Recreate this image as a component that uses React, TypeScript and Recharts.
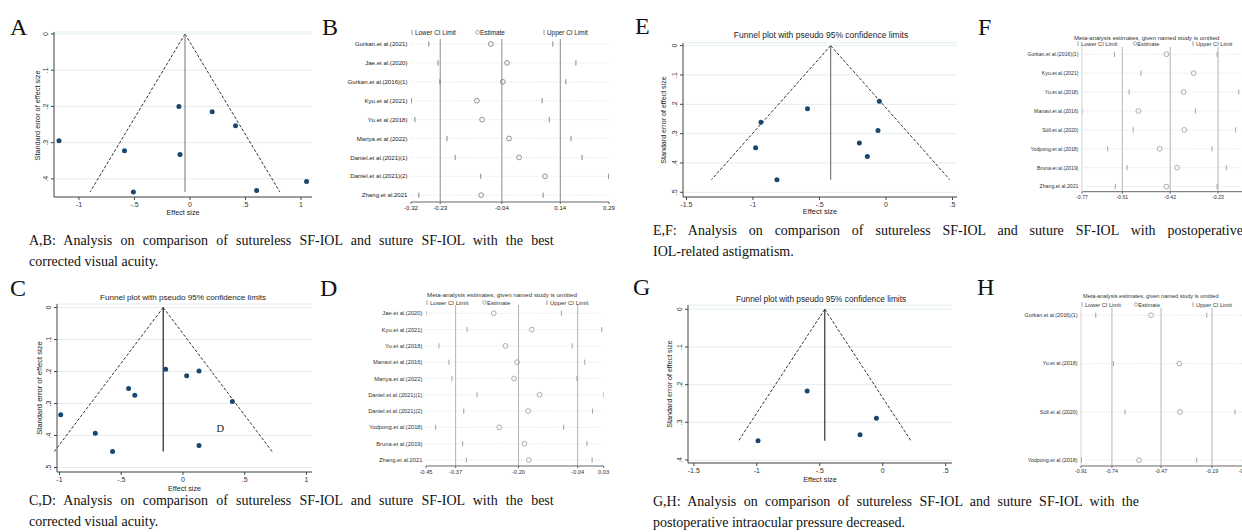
import { ScatterChart, Scatter, XAxis, YAxis, CartesianGrid, ReferenceLine } from 'recharts'

const SANS = '"Liberation Sans", Arial, Helvetica, sans-serif'
const SERIF = '"Liberation Serif", "Times New Roman", serif'
const NAVY = '#1a476f'

// ---- funnel plots (effect size vs standard error) ----
const aEffect = [-1.18, -0.59, -0.1, -0.09, -0.51, 0.2, 0.41, 0.6, 1.05]
const aSE = [0.295, 0.322, 0.2, 0.333, 0.436, 0.215, 0.253, 0.432, 0.407]
const aPooled = -0.045

const cEffect = [-0.99, -0.71, -0.57, -0.44, -0.39, -0.14, 0.03, 0.13, 0.4, 0.13]
const cSE = [0.335, 0.393, 0.45, 0.253, 0.274, 0.193, 0.213, 0.198, 0.294, 0.431]
const cPooled = -0.16

const eEffect = [-0.98, -0.94, -0.59, -0.82, -0.05, -0.06, -0.2, -0.14]
const eSE = [0.348, 0.261, 0.215, 0.457, 0.19, 0.289, 0.332, 0.378]
const ePooled = -0.416

const gEffect = [-0.6, -0.99, -0.05, -0.18]
const gSE = [0.217, 0.349, 0.289, 0.333]
const gPooled = -0.46

const seTicks4 = [0, 0.1, 0.2, 0.3, 0.4]
const seTicks5 = [0, 0.1, 0.2, 0.3, 0.4, 0.5]
const effTicksAC = [-1, -0.5, 0, 0.5, 1]
const effTicksEG = [-1.5, -1, -0.5, 0, 0.5]

// ---- leave-one-out sensitivity plots ----
const bStudies = ['Gurkan.et al.(2021)', 'Jae.et al.(2020)', 'Gurkan.et al.(2016)(1)', 'Kyu.et al.(2021)', 'Yu.et al.(2018)', 'Mariya.et al.(2022)', 'Daniel.et al.(2021)(1)', 'Daniel.et al.(2021)(2)', 'Zhang.et al.2021']
const bLower = [-0.265, -0.237, -0.231, -0.319, -0.308, -0.209, -0.184, -0.105, -0.296]
const bEst = [-0.074, -0.024, -0.037, -0.117, -0.101, -0.018, 0.013, 0.093, -0.104]
const bUpper = [0.117, 0.188, 0.157, 0.084, 0.106, 0.173, 0.207, 0.289, 0.087]
const bTicks = [-0.32, -0.23, -0.04, 0.14, 0.29]

const dStudies = ['Jae.et al.(2020)', 'Kyu.et al.(2021)', 'Yu.et al.(2018)', 'Manavi.et al.(2016)', 'Mariya.et al.(2022)', 'Daniel.et al.(2021)(1)', 'Daniel.et al.(2021)(2)', 'Yodpong.et al.(2018)', 'Bruna.et al.(2019)', 'Zhang.et al.2021']
const dLower = [-0.45, -0.339, -0.415, -0.388, -0.38, -0.312, -0.348, -0.424, -0.351, -0.341]
const dEst = [-0.267, -0.164, -0.235, -0.204, -0.212, -0.143, -0.174, -0.252, -0.184, -0.172]
const dUpper = [-0.084, 0.025, -0.055, -0.021, -0.042, 0.03, 0.0, -0.078, -0.015, -0.001]
const dTicks = [-0.45, -0.37, -0.2, -0.04, 0.03]

const fStudies = ['Gurkan.et al.(2016)(1)', 'Kyu.et al.(2021)', 'Yu.et al.(2018)', 'Manavi.et al.(2016)', 'Süll.et al.(2020)', 'Yodpong.et al.(2018)', 'Bruna.et al.(2019)', 'Zhang.et al.2021']
const fLower = [-0.641, -0.536, -0.583, -0.77, -0.567, -0.668, -0.591, -0.638]
const fEst = [-0.435, -0.327, -0.367, -0.546, -0.364, -0.462, -0.393, -0.435]
const fUpper = [-0.234, -0.118, -0.148, -0.32, -0.161, -0.254, -0.197, -0.234]
const fTicks = [-0.77, -0.61, -0.42, -0.23, -0.11]

const hStudies = ['Gurkan.et al.(2016)(1)', 'Yu.et al.(2018)', 'Süll.et al.(2020)', 'Yodpong.et al.(2018)']
const hLower = [-0.829, -0.732, -0.668, -0.908]
const hEst = [-0.525, -0.37, -0.366, -0.591]
const hUpper = [-0.219, -0.008, -0.064, -0.274]
const hTicks = [-0.91, -0.74, -0.47, -0.19, -0.01]

// stata style numbers: .5, -.5, 0
const stataNum = (v: number) => (v === 0 ? '0' : String(v).replace(/^(-?)0\./, '$1.'))

const RotTick = (props: any) => {
  const { x, y, payload } = props
  return (
    <text x={x} y={y} transform={`rotate(-90 ${x} ${y})`} textAnchor="middle" fontSize={7} fill="#333" fontFamily={SANS}>
      {stataNum(payload.value)}
    </text>
  )
}

interface FunnelProps {
  effect: number[]
  se: number[]
  pooled: number
  box: [number, number, number, number]
  xDomain: [number, number]
  yDomain: [number, number]
  xTicks: number[]
  yTicks: number[]
  midColor: string
}

function FunnelPlot({ effect, se, pooled, box, xDomain, yDomain, xTicks, yTicks, midColor }: FunnelProps) {
  const [l, t, r, b] = box
  const padL = 40, padT = 6, padR = 8, axisH = 22
  const data = effect.map((x, i) => ({ x, y: se[i] }))
  const seMax = Math.max(...se)
  const half = 1.96 * seMax
  return (
    <div style={{ position: 'absolute', left: l - padL, top: t - padT }}>
      <ScatterChart width={r - l + padL + padR} height={b - t + padT + axisH} margin={{ top: padT, right: padR, bottom: 0, left: 0 }}>
        <CartesianGrid vertical={false} stroke="#e4edf0" />
        <XAxis type="number" dataKey="x" domain={xDomain} ticks={xTicks} allowDataOverflow interval={0} height={axisH}
          tickSize={3} tickMargin={2} tickFormatter={stataNum}
          tick={{ fontSize: 7, fill: '#333', fontFamily: SANS }}
          axisLine={{ stroke: '#444' }} tickLine={{ stroke: '#444' }} />
        <YAxis type="number" dataKey="y" domain={yDomain} ticks={yTicks} reversed allowDataOverflow interval={0} width={padL}
          tickSize={3} tickMargin={3} tick={(p: any) => <RotTick {...p} />}
          axisLine={{ stroke: '#444' }} tickLine={{ stroke: '#444' }} />
        <ReferenceLine segment={[{ x: pooled, y: 0 }, { x: pooled - half, y: seMax }]} stroke="#333" strokeDasharray="3 1.8" ifOverflow="visible" />
        <ReferenceLine segment={[{ x: pooled, y: 0 }, { x: pooled + half, y: seMax }]} stroke="#333" strokeDasharray="3 1.8" ifOverflow="visible" />
        <ReferenceLine segment={[{ x: pooled, y: 0 }, { x: pooled, y: seMax }]} stroke={midColor} strokeWidth={1.2} ifOverflow="visible" />
        <Scatter data={data} isAnimationActive={false}
          shape={(p: any) => <circle cx={p.cx} cy={p.cy} r={2.5} fill={NAVY} />} />
      </ScatterChart>
    </div>
  )
}

interface InfluenceProps {
  names: string[]
  lower: number[]
  est: number[]
  upper: number[]
  refs: number[]
  box: [number, number, number, number]
  xDomain: [number, number]
  yDomain: [number, number]
  xTicks: number[]
  fontSize: number
  markColor: string
  refColor: string
  textColor: string
  leftLine?: boolean
}

function InfluencePlot({ names, lower, est, upper, refs, box, xDomain, yDomain, xTicks, fontSize, markColor, refColor, textColor, leftLine }: InfluenceProps) {
  const [l, t, r, b] = box
  const padL = 110, padT = 4, padR = 10, axisH = 18
  const rows = names.map((_, i) => i)
  const lo = lower.map((x, i) => ({ x, y: i }))
  const mid = est.map((x, i) => ({ x, y: i }))
  const hi = upper.map((x, i) => ({ x, y: i }))
  const bar = (p: any) => <line x1={p.cx} x2={p.cx} y1={p.cy - 2.6} y2={p.cy + 2.6} stroke={markColor} strokeWidth={0.9} />
  const ring = (p: any) => <circle cx={p.cx} cy={p.cy} r={2.4} fill="none" stroke={markColor} strokeWidth={0.8} />
  const nameTick = (p: any) => (
    <text x={p.x} y={p.y} dy="0.35em" textAnchor="end" fontSize={fontSize} fill={textColor} fontFamily={SANS}>
      {names[p.payload.value] ?? ''}
    </text>
  )
  return (
    <div style={{ position: 'absolute', left: l - padL, top: t - padT }}>
      <ScatterChart width={r - l + padL + padR} height={b - t + padT + axisH} margin={{ top: padT, right: padR, bottom: 0, left: 0 }}>
        <XAxis type="number" dataKey="x" domain={xDomain} ticks={xTicks} allowDataOverflow interval={0} height={axisH}
          tickSize={2} tickMargin={1.5} tickFormatter={(v: number) => v.toFixed(2)}
          tick={{ fontSize, fill: textColor, fontFamily: SANS }}
          axisLine={{ stroke: '#666' }} tickLine={{ stroke: '#666' }} />
        <YAxis type="number" dataKey="y" domain={yDomain} ticks={rows} reversed allowDataOverflow interval={0} width={padL}
          tickSize={0} tickMargin={3.5} tickLine={false}
          axisLine={leftLine ? { stroke: '#d4d4d4' } : false}
          tick={nameTick} />
        {rows.map((i) => (
          <ReferenceLine key={`row${i}`} y={i} stroke="#d2d2d2" strokeWidth={0.7} strokeDasharray="1 1.5" />
        ))}
        {refs.map((v) => (
          <ReferenceLine key={`ref${v}`} x={v} stroke={refColor} strokeWidth={1} />
        ))}
        <Scatter data={lo} shape={bar} isAnimationActive={false} />
        <Scatter data={mid} shape={ring} isAnimationActive={false} />
        <Scatter data={hi} shape={bar} isAnimationActive={false} />
      </ScatterChart>
    </div>
  )
}

function Legend({ x, y, size, color }: { x: [number, number, number]; y: number; size: number; color: string }) {
  return (
    <g fontFamily={SANS} fontSize={size} fill={color}>
      <line x1={x[0]} x2={x[0]} y1={y - size * 0.75} y2={y + 0.5} stroke="#888" strokeWidth={0.8} />
      <text x={x[0] + 3} y={y}>Lower CI Limit</text>
      <circle cx={x[1]} cy={y - size * 0.35} r={size * 0.3} fill="none" stroke="#888" strokeWidth={0.7} />
      <text x={x[1] + size * 0.4} y={y}>Estimate</text>
      <line x1={x[2]} x2={x[2]} y1={y - size * 0.75} y2={y + 0.5} stroke="#888" strokeWidth={0.8} />
      <text x={x[2] + 3} y={y}>Upper CI Limit</text>
    </g>
  )
}

const YTitle = ({ x, y, size }: { x: number; y: number; size: number }) => (
  <text x={x} y={y} transform={`rotate(-90 ${x} ${y})`} textAnchor="middle" dy="0.35em" fontSize={size} fontFamily={SANS} fill="#222">
    Standard error of effect size
  </text>
)

const XTitle = ({ x, y, size }: { x: number; y: number; size: number }) => (
  <text x={x} y={y} textAnchor="middle" dy="0.35em" fontSize={size} fontFamily={SANS} fill="#222">
    Effect size
  </text>
)

export default function App() {
  const cap = { fontFamily: SERIF, fontSize: 14, fill: '#111' }
  const letter = { fontFamily: SERIF, fontSize: 24, fill: '#111' }
  return (
    <div style={{ position: 'absolute', left: 0, top: 0, width: 1242, height: 532, overflow: 'hidden', background: '#fff' }}>
      <FunnelPlot effect={aEffect} se={aSE} pooled={aPooled} box={[54, 32, 312, 197]} xDomain={[-1.225, 1.099]} yDomain={[-0.0055, 0.45]}
        xTicks={effTicksAC} yTicks={seTicks4} midColor="#8a8a8a" />
      <FunnelPlot effect={cEffect} se={cSE} pooled={cPooled} box={[57, 304, 312, 472]} xDomain={[-1.02, 1.045]} yDomain={[-0.011, 0.514]}
        xTicks={effTicksAC} yTicks={seTicks5} midColor="#222" />
      <FunnelPlot effect={eEffect} se={eSE} pooled={ePooled} box={[683, 43, 957, 197]} xDomain={[-1.526, 0.534]} yDomain={[-0.009, 0.516]}
        xTicks={effTicksEG} yTicks={seTicks5} midColor="#7a7a7a" />
      <FunnelPlot effect={gEffect} se={gSE} pooled={gPooled} box={[688, 305, 952, 463]} xDomain={[-1.546, 0.55]} yDomain={[-0.0114, 0.408]}
        xTicks={effTicksEG} yTicks={seTicks4} midColor="#333" />

      <InfluencePlot names={bStudies} lower={bLower} est={bEst} upper={bUpper} refs={[-0.23, -0.04, 0.14]}
        box={[411, 39, 609, 202]} xDomain={[-0.32, 0.29]} yDomain={[-0.265, 8.36]} xTicks={bTicks}
        fontSize={6.1} markColor="#777" refColor="#8c8c8c" textColor="#222" />
      <InfluencePlot names={dStudies} lower={dLower} est={dEst} upper={dUpper} refs={[-0.37, -0.2, -0.04]}
        box={[425.7, 305, 603.3, 466]} xDomain={[-0.45, 0.03]} yDomain={[-0.51, 9.37]} xTicks={dTicks}
        fontSize={5.8} markColor="#9a9a9a" refColor="#b4b4b4" textColor="#333" />
      <InfluencePlot names={fStudies} lower={fLower} est={fEst} upper={fUpper} refs={[-0.61, -0.42, -0.23]}
        box={[1081.7, 47, 1248, 191.7]} xDomain={[-0.77, -0.11]} yDomain={[-0.386, 7.27]} xTicks={fTicks}
        fontSize={5.2} markColor="#9a9a9a" refColor="#b4b4b4" textColor="#333" leftLine />
      <InfluencePlot names={hStudies} lower={hLower} est={hEst} upper={hUpper} refs={[-0.74, -0.47, -0.19]}
        box={[1081, 308, 1244.8, 466]} xDomain={[-0.91, -0.01]} yDomain={[-0.151, 3.12]} xTicks={hTicks}
        fontSize={5.4} markColor="#9a9a9a" refColor="#b4b4b4" textColor="#333" leftLine />

      <svg width={1242} height={532} style={{ position: 'absolute', left: 0, top: 0, pointerEvents: 'none' }}>
        {/* panel letters */}
        <text x={10} y={35} {...letter}>A</text>
        <text x={322} y={35} {...letter}>B</text>
        <text x={10} y={296} {...letter}>C</text>
        <text x={320} y={296} {...letter}>D</text>
        <text x={635} y={34} {...letter}>E</text>
        <text x={978} y={35} {...letter}>F</text>
        <text x={633} y={295} {...letter}>G</text>
        <text x={977} y={295} {...letter}>H</text>

        {/* funnel titles and axis titles */}
        <text x={183} y={300} textAnchor="middle" fontSize={8.1} fontFamily={SANS} fill="#222">Funnel plot with pseudo 95% confidence limits</text>
        <text x={821} y={38} textAnchor="middle" fontSize={8.5} fontFamily={SANS} fill="#222">Funnel plot with pseudo 95% confidence limits</text>
        <text x={821} y={302} textAnchor="middle" fontSize={8.3} fontFamily={SANS} fill="#222">Funnel plot with pseudo 95% confidence limits</text>
        <YTitle x={37} y={115.5} size={7.3} />
        <XTitle x={183} y={212} size={7.2} />
        <YTitle x={39} y={388} size={7.6} />
        <XTitle x={184.5} y={488} size={7.2} />
        <YTitle x={664} y={120} size={7.1} />
        <XTitle x={820} y={211} size={7.5} />
        <YTitle x={670} y={384} size={7.1} />
        <XTitle x={820} y={479} size={7.3} />
        <text x={216.5} y={432} fontSize={10.5} fontFamily={SERIF} fill="#222">D</text>

        {/* leave-one-out titles and legends */}
        <Legend x={[412, 477.5, 544]} y={34.5} size={6.4} color="#222" />
        <text x={427} y={296.5} fontSize={6.2} fontFamily={SANS} fill="#333">Meta-analysis estimates, given named study is omitted</text>
        <Legend x={[427, 484.5, 547]} y={304.5} size={6} color="#333" />
        <text x={1074} y={39.5} fontSize={6} fontFamily={SANS} fill="#333">Meta-analysis estimates, given named study is omitted</text>
        <Legend x={[1078, 1135, 1193]} y={45.5} size={5.7} color="#333" />
        <text x={1083} y={297.5} fontSize={5.6} fontFamily={SANS} fill="#333">Meta-analysis estimates, given named study is omitted</text>
        <Legend x={[1082, 1136, 1193]} y={306.5} size={5.6} color="#333" />

        {/* captions (justified first lines) */}
        <text x={29} y={245} {...cap} wordSpacing={4.7}>A,B: Analysis on comparison of sutureless SF-IOL and suture SF-IOL with the best</text>
        <text x={29} y={266} {...cap}>corrected visual acuity.</text>
        <text x={29} y={505} {...cap} wordSpacing={4.7}>C,D: Analysis on comparison of sutureless SF-IOL and suture SF-IOL with the best</text>
        <text x={29} y={526} {...cap}>corrected visual acuity.</text>
        <text x={653} y={235} {...cap} wordSpacing={8.4}>E,F: Analysis on comparison of sutureless SF-IOL and suture SF-IOL with postoperative</text>
        <text x={653} y={256} {...cap}>IOL-related astigmatism.</text>
        <text x={653} y={506} {...cap} wordSpacing={3.9}>G,H: Analysis on comparison of sutureless SF-IOL and suture SF-IOL with the</text>
        <text x={653} y={527} {...cap}>postoperative intraocular pressure decreased.</text>
      </svg>
    </div>
  )
}
